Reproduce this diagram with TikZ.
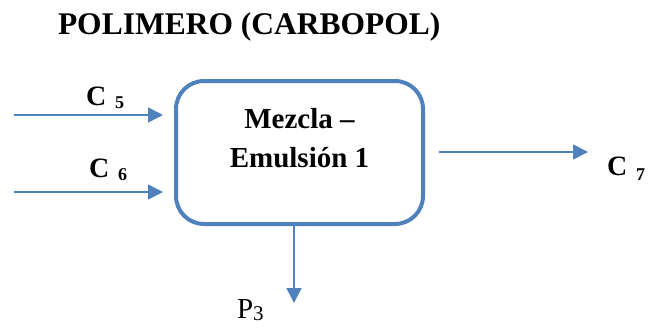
\documentclass[tikz,border=0pt]{standalone}
\usepackage{fontspec}
\setmainfont{Liberation Serif}
\usetikzlibrary{arrows.meta}
\definecolor{flowblue}{RGB}{79,129,189}
\tikzset{
  flow/.style={draw=flowblue, line width=1.5pt, -{Triangle[length=15pt,width=15pt]}},
  procbox/.style={draw=flowblue, line width=4pt, rounded corners=28pt, minimum width=247pt, minimum height=143pt, inner sep=0pt},
  lbl/.style={anchor=base west, inner sep=0pt, outer sep=0pt},
}
\newcommand{\streamlbl}[3]{{\fontsize{28}{28}\selectfont\bfseries #1}\hspace{9pt}\raisebox{-#3pt}{\fontsize{18}{18}\selectfont\bfseries #2}}
\begin{document}
\begin{tikzpicture}[x=1pt,y=-1pt]
\useasboundingbox (0,0) rectangle (650,327);
% title
\node[lbl] (title) at (58,34) {\fontsize{31.5}{31.5}\selectfont\bfseries POLIMERO (CARBOPOL)};
% process box
\node[procbox] (box) at (299.5,152.5) {};
\node[anchor=base, inner sep=0pt, align=center, font=\fontsize{29}{39}\selectfont\bfseries] (boxtext) at (299.5,167) {Mezcla –\\Emulsión 1};
% free ends
\coordinate (in5) at (14,115);
\coordinate (in6) at (14,192);
\coordinate (out7) at (588,152);
\coordinate (out3) at (294,303);
% connectors
\draw[flow, shorten >=11pt] (in5) -- (in5 -| box.west);
\draw[flow, shorten >=11pt] (in6) -- (in6 -| box.west);
\draw[flow, shorten <=14pt] (out7 -| box.east) -- (out7);
\draw[flow] (out3 |- box.south) -- (out3);
% labels
\node[lbl] (c5) at (86,105) {\streamlbl{C}{5}{3}};
\node[lbl] (c6) at (89,177) {\streamlbl{C}{6}{3}};
\node[lbl] (c7) at (607,175) {\streamlbl{C}{7}{5}};
\node[lbl] (p3) at (237,318) {\fontsize{29}{29}\selectfont P\raisebox{-2pt}{\fontsize{21}{21}\selectfont 3}};
\end{tikzpicture}
\end{document}
